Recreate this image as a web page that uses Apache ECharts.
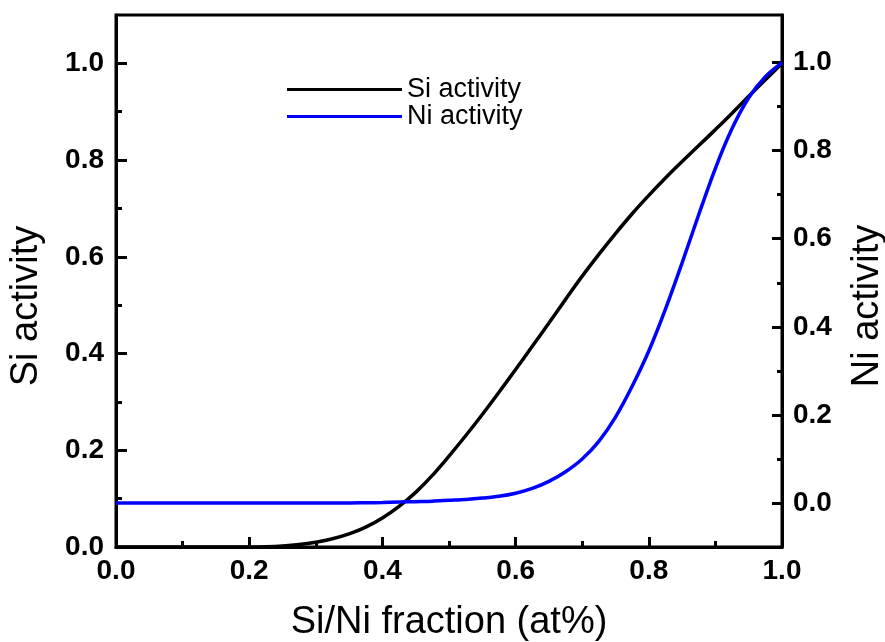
<!DOCTYPE html>
<html>
<head>
<meta charset="utf-8">
<script src="https://cdn.jsdelivr.net/npm/echarts@6/dist/echarts.min.js"></script>
<style>
  html, body { margin: 0; padding: 0; background: #fff; }
  #main { width: 885px; height: 642px; }
</style>
</head>
<body>
<div id="main"></div>
<script>
// Si/Ni fraction (x axis)
var fraction = [0, 0.025, 0.05, 0.075, 0.1, 0.125, 0.15, 0.175, 0.2, 0.225, 0.25, 0.275,
  0.3, 0.325, 0.35, 0.375, 0.4, 0.425, 0.45, 0.475, 0.5, 0.525, 0.55, 0.575,
  0.6, 0.625, 0.65, 0.675, 0.7, 0.725, 0.75, 0.775, 0.8, 0.825, 0.85, 0.875,
  0.9, 0.925, 0.95, 0.975, 1.0];
// Si activity (left axis)
var siActivity = [0, 0, 0, 0, 0, 0, 0, 0, 0, 0.0005, 0.002, 0.005,
  0.01, 0.017, 0.027, 0.041, 0.06, 0.084, 0.113, 0.148, 0.188, 0.23, 0.274, 0.32,
  0.367, 0.415, 0.463, 0.512, 0.56, 0.605, 0.648, 0.689, 0.727, 0.763, 0.797, 0.83,
  0.863, 0.897, 0.932, 0.966, 1.0];
// Ni activity (right axis)
var niActivity = [0, 0, 0, 0, 0, 0, 0, 0, 0, 0, 0, 0,
  0, 0, 0, 0.0005, 0.001, 0.002, 0.003, 0.004, 0.006, 0.008, 0.011, 0.015,
  0.022, 0.033, 0.049, 0.071, 0.1, 0.14, 0.195, 0.265, 0.345, 0.44, 0.545, 0.655,
  0.76, 0.85, 0.92, 0.968, 1.0];
var majorLeft = [0, 0.2, 0.4, 0.6, 0.8, 1.0];
var minorLeft = [0.1, 0.3, 0.5, 0.7, 0.9];
var majorRight = [0, 0.2, 0.4, 0.6, 0.8, 1.0];
var minorRight = [0.1, 0.3, 0.5, 0.7, 0.9];

function pairs(xs, ys) {
  var out = [];
  for (var i = 0; i < xs.length; i++) out.push([xs[i], ys[i]]);
  return out;
}

var chart = echarts.init(document.getElementById('main'));
var font = 'Liberation Sans, Arial, sans-serif';
var tickLabel = { color: '#000', fontSize: 28, fontWeight: 'bold', fontFamily: font };
var nameStyle = { color: '#000', fontSize: 38, fontFamily: font };
var axisLine = { show: true, lineStyle: { color: '#000', width: 3 } };

var o = {
  animation: false,
  backgroundColor: '#fff',
  grid: {
    left: 116, right: 103, top: 15, bottom: 95,
    outerBoundsMode: 'none',
    show: true, borderColor: '#000', borderWidth: 3
  },
  legend: {
    orient: 'vertical',
    left: 282, top: 71,
    icon: 'rect',
    itemWidth: 115, itemHeight: 3, itemGap: 0,
    textStyle: { color: '#000', fontSize: 27, fontFamily: font, lineHeight: 27 },
    data: ['Si activity', 'Ni activity']
  },
  xAxis: [{
    type: 'value', min: 0, max: 1, interval: 0.2,
    name: 'Si/Ni fraction (at%)', nameLocation: 'middle', nameGap: 57,
    nameTextStyle: nameStyle,
    axisLine: axisLine,
    axisTick: { inside: true, length: 10, lineStyle: { width: 3, color: '#000' } },
    minorTick: { show: true, splitNumber: 2, length: 6, lineStyle: { width: 3, color: '#000' } },
    axisLabel: Object.assign({ margin: 10, formatter: function (v) { return v.toFixed(1); } }, tickLabel),
    splitLine: { show: false }
  }],
  yAxis: [{
    type: 'value', min: 0, max: 1.1, position: 'left',
    name: 'Si activity', nameLocation: 'middle', nameGap: 70, nameRotate: 90,
    nameTextStyle: Object.assign({ padding: [0, 50, 0, 0] }, nameStyle),
    axisLine: axisLine,
    axisTick: { inside: true, length: 11, customValues: majorLeft, lineStyle: { width: 3, color: '#000' } },
    axisLabel: Object.assign({ margin: 12, customValues: majorLeft, formatter: function (v) { return v.toFixed(1); } }, tickLabel),
    splitLine: { show: false }
  }, {
    type: 'value', min: -0.1, max: 1.108, position: 'right',
    name: 'Ni activity', nameLocation: 'middle', nameGap: 67, nameRotate: 90,
    nameTextStyle: Object.assign({ padding: [0, 50, 0, 0] }, nameStyle),
    axisLine: axisLine,
    axisTick: { inside: true, length: 10, customValues: majorRight, lineStyle: { width: 3, color: '#000' } },
    axisLabel: Object.assign({ margin: 11, customValues: majorRight, formatter: function (v) { return v.toFixed(1); } }, tickLabel),
    splitLine: { show: false }
  }, {
    // minor ticks, left
    type: 'value', min: 0, max: 1.1, position: 'left',
    axisLine: { show: false },
    axisTick: { inside: true, length: 6, customValues: minorLeft, lineStyle: { width: 3, color: '#000' } },
    axisLabel: { show: false },
    splitLine: { show: false }
  }, {
    // minor ticks, right
    type: 'value', min: -0.1, max: 1.108, position: 'right',
    axisLine: { show: false },
    axisTick: { inside: true, length: 5, customValues: minorRight, lineStyle: { width: 3, color: '#000' } },
    axisLabel: { show: false },
    splitLine: { show: false }
  }],
  series: [{
    name: 'Si activity',
    type: 'line',
    yAxisIndex: 0,
    symbol: 'none',
    smooth: 0.3,
    color: '#000',
    lineStyle: { color: '#000', width: 3.5 },
    data: pairs(fraction, siActivity)
  }, {
    name: 'Ni activity',
    type: 'line',
    yAxisIndex: 1,
    symbol: 'none',
    smooth: 0.3,
    color: '#0000ff',
    lineStyle: { color: '#0000ff', width: 3.5 },
    data: pairs(fraction, niActivity)
  }]
};
chart.setOption(o);
</script>
</body>
</html>
